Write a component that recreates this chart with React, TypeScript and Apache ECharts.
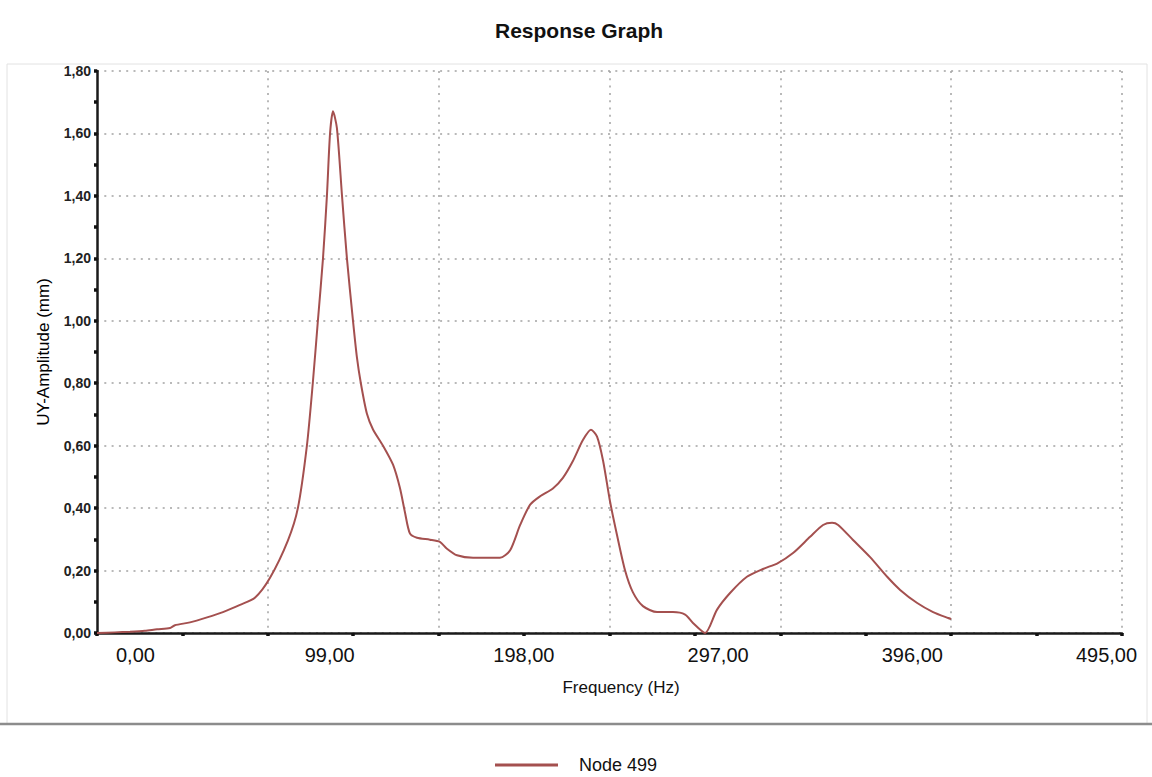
import React, { useEffect, useRef } from "react";
import * as echarts from "echarts";

// Frequency (Hz) and UY amplitude (mm)
const FREQ = [
  -19.6, -10.5, -2.8, 4.8, 11.0, 17.6, 20.1, 27.8, 36.5, 44.6, 53.3, 60.9, 68.6, 77.7, 82.8,
  87.4, 90.4, 93.0, 95.6, 97.6, 99.2, 100.7, 102.7, 105.3, 107.8, 110.9, 112.9, 114.9, 118.0,
  121.1, 126.2, 131.3, 134.8, 137.4, 139.9, 143.5, 150.1, 155.2, 158.8, 163.9, 172.1, 185.8,
  191.0, 196.1, 201.2, 206.3, 212.8, 217.9, 223.0, 228.1, 232.2, 235.3, 238.4, 241.9, 245.5,
  249.6, 253.6, 258.7, 265.9, 274.0, 280.2, 284.2, 290.4, 296.4, 303.1, 311.7, 319.9, 327.5,
  335.2, 343.9, 350.5, 355.1, 358.2, 365.8, 374.5, 383.2, 389.8, 398.5, 406.6, 414.3, 415.8,
];
const AMP = [
  0.0, 0.002, 0.004, 0.007, 0.012, 0.016, 0.025, 0.034, 0.05, 0.067, 0.09, 0.113, 0.177, 0.296,
  0.4, 0.6, 0.8, 1.0, 1.2, 1.4, 1.6, 1.671, 1.617, 1.4, 1.2, 1.0, 0.883, 0.8, 0.702, 0.652,
  0.6, 0.539, 0.465, 0.386, 0.319, 0.305, 0.299, 0.292, 0.27, 0.249, 0.241, 0.241, 0.265,
  0.346, 0.411, 0.438, 0.463, 0.497, 0.551, 0.618, 0.651, 0.629, 0.551, 0.422, 0.313, 0.2,
  0.13, 0.086, 0.067, 0.067, 0.059, 0.032, 0.0, 0.074, 0.128, 0.18, 0.205, 0.224, 0.256,
  0.308, 0.346, 0.353, 0.346, 0.298, 0.243, 0.18, 0.138, 0.096, 0.067, 0.048, 0.045,
];

const SERIES_NAME = "Node 499";
const TITLE = "Response Graph";
const X_NAME = "Frequency (Hz)";
const Y_NAME = "UY-Amplitude (mm)";

const X_LABELS = [0, 99, 198, 297, 396, 495];
const X_TICKS = [-19.6, 23.9, 67.5, 111.0, 154.6, 198.1, 241.7, 285.2, 328.7, 372.3, 415.8, 459.4, 502.9];
const X_GRID = [67.5, 154.6, 241.7, 328.7, 415.8, 502.9];
const X_MIN = -19.6;
const X_MAX = 502.9;
const Y_MIN = 0;
const Y_MAX = 1.8;
const Y_STEP = 0.2;

const fmt = (v: number) => v.toFixed(2).replace(".", ",");

const FONT = "'Liberation Sans', Arial, sans-serif";
const GRID_RECT = { left: 97, right: 30, top: 71, bottom: 144 };
const DOT = { color: "#a3a3a3", width: 1.5, type: [2, 5.3] as number[] };
const LINE_COLOR = "#a4504f";

export default function App() {
  const ref = useRef<HTMLDivElement>(null);

  useEffect(() => {
    if (!ref.current) return;
    const chart = echarts.init(ref.current, undefined, { renderer: "svg" });
    chart.setOption({
      animation: false,
      backgroundColor: "#ffffff",
      title: {
        text: TITLE,
        left: 490,
        top: 15,
        textStyle: { fontFamily: FONT, fontSize: 21, fontWeight: "bold", color: "#111" },
      },
      legend: {
        data: [SERIES_NAME],
        left: 495,
        top: 756,
        padding: 0,
        icon: "rect",
        itemWidth: 63,
        itemHeight: 3,
        itemStyle: { color: LINE_COLOR },
        textStyle: { fontFamily: FONT, fontSize: 18, color: "#111", padding: [0, 0, 0, 16] },
      },
      graphic: [
        {
          type: "rect",
          shape: { x: 7, y: 64, width: 1140, height: 660 },
          style: { fill: "none", stroke: "#e2e2e2", lineWidth: 1 },
          silent: true,
          z: -1,
        },
        {
          type: "line",
          shape: { x1: 0, y1: 724, x2: 1152, y2: 724 },
          style: { stroke: "#8c8c8c", lineWidth: 2.5 },
          silent: true,
        },
      ],
      grid: [
        { ...GRID_RECT, containLabel: false },
        { ...GRID_RECT, containLabel: false },
      ],
      xAxis: [
        {
          type: "value",
          gridIndex: 0,
          min: X_MIN,
          max: X_MAX,
          name: X_NAME,
          nameLocation: "middle",
          nameGap: 46,
          nameTextStyle: { fontFamily: FONT, fontSize: 17, color: "#111", padding: [0, 0, 0, 23] },
          axisLine: { show: true, onZero: false, lineStyle: { color: "#1a1a1a", width: 2.5 } },
          axisTick: { show: false, customValues: X_GRID },
          axisLabel: {
            customValues: X_LABELS,
            formatter: fmt,
            margin: 12,
            fontFamily: FONT,
            fontSize: 20,
            color: "#111",
          },
          splitLine: { show: true, lineStyle: DOT },
        },
        {
          type: "value",
          gridIndex: 1,
          min: X_MIN,
          max: X_MAX,
          axisLine: { show: false, onZero: false },
          axisTick: {
            show: true,
            customValues: X_TICKS,
            inside: false,
            length: 3,
            lineStyle: { color: "#111", width: 3.5 },
          },
          axisLabel: { show: false },
          splitLine: { show: false },
        },
      ],
      yAxis: [
        {
          type: "value",
          gridIndex: 0,
          min: Y_MIN,
          max: Y_MAX,
          interval: Y_STEP,
          name: Y_NAME,
          nameLocation: "middle",
          nameGap: 45,
          nameTextStyle: { fontFamily: FONT, fontSize: 17, color: "#000" },
          axisLine: { show: true, onZero: false, lineStyle: { color: "#1a1a1a", width: 2.5 } },
          axisTick: { show: true, length: 3, lineStyle: { color: "#111", width: 3.5 } },
          minorTick: { show: true, splitNumber: 2, length: 3, lineStyle: { color: "#111", width: 3.5 } },
          axisLabel: {
            formatter: fmt,
            margin: 6,
            fontFamily: FONT,
            fontSize: 14,
            fontWeight: "bold",
            color: "#222",
          },
          splitLine: { show: true, lineStyle: DOT },
        },
        {
          type: "value",
          gridIndex: 1,
          min: Y_MIN,
          max: Y_MAX,
          show: false,
        },
      ],
      series: [
        {
          name: SERIES_NAME,
          type: "line",
          xAxisIndex: 0,
          yAxisIndex: 0,
          data: FREQ.map((f, i) => [f, AMP[i]]),
          symbol: "none",
          smooth: 0.25,
          lineStyle: { color: LINE_COLOR, width: 2 },
          itemStyle: { color: LINE_COLOR },
        },
      ],
    });
    return () => chart.dispose();
  }, []);

  return (
    <div
      ref={ref}
      style={{ position: "fixed", left: 0, top: 0, width: 1152, height: 777 }}
    />
  );
}
